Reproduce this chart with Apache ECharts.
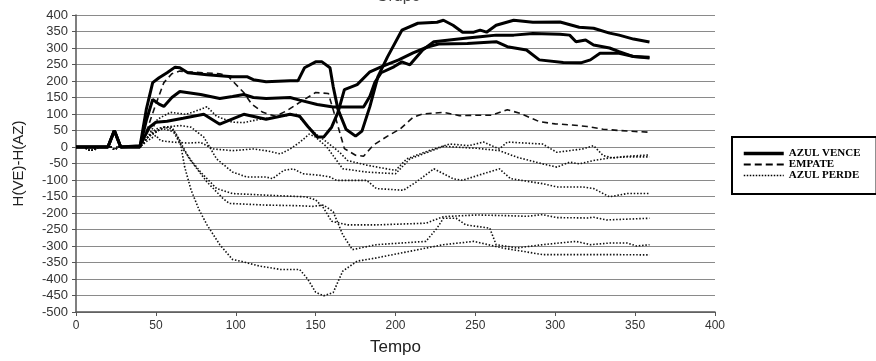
<!DOCTYPE html>
<html>
<head>
<meta charset="utf-8">
<script src="https://cdn.jsdelivr.net/npm/echarts@6/dist/echarts.min.js"></script>
<style>
html,body{margin:0;padding:0;background:#fff;}
#chart{width:876px;height:361px;}
</style>
</head>
<body>
<div id="chart"></div>
<script>
// ---- data (time, H(VE)-H(AZ)) ----
const titleText = 'Grupo';
const xAxisName = 'Tempo';
const yAxisName = 'H(VE)-H(AZ)';
const legendNames = ['AZUL VENCE', 'EMPATE', 'AZUL PERDE'];

// AZUL VENCE (solid)
const venceA = [[0,0],[20,0],[24,50],[28,0],[40,0],[44,114],[48,195],[52,210],[57,225],[62,242],[65,240],[70,225],[82,219],[98,213],[107,213],[111,204],[119,198],[134,201],[139,201],[143,240],[150,258],[154,258],[159,240],[161,183],[164,114],[169,54],[175,33],[179,48],[184,123],[189,213],[195,273],[204,354],[214,375],[226,378],[230,384],[236,369],[242,348],[249,348],[253,354],[257,348],[263,369],[274,384],[286,378],[303,379],[315,363],[324,360],[334,345],[340,339],[349,327],[359,318]];
const venceB = [[0,0],[20,0],[24,50],[28,0],[40,0],[44,80],[48,144],[52,130],[55,123],[60,150],[65,168],[78,159],[90,147],[98,153],[105,159],[111,150],[119,147],[134,150],[140,142],[151,129],[161,121],[170,121],[180,121],[184,154],[187,195],[191,225],[199,243],[204,258],[209,249],[217,294],[224,319],[245,330],[253,334],[263,339],[274,339],[286,344],[303,342],[309,339],[313,319],[319,324],[324,309],[334,300],[340,289],[349,274],[359,272]];
const venceC = [[0,0],[20,0],[24,50],[28,0],[40,4],[46,60],[50,75],[57,78],[67,87],[80,99],[90,69],[105,99],[119,84],[134,99],[140,93],[145,63],[151,30],[155,30],[160,60],[164,105],[168,174],[176,189],[184,228],[191,243],[202,264],[211,285],[220,303],[227,312],[245,314],[263,319],[270,304],[282,294],[290,264],[305,256],[316,255],[322,264],[328,284],[340,284],[349,274],[359,270]];

// EMPATE (dashed)
const empate = [[0,0],[40,0],[45,60],[50,130],[55,195],[60,222],[65,230],[70,228],[80,225],[90,222],[95,215],[100,190],[105,165],[110,130],[117,105],[125,93],[132,110],[140,135],[150,165],[158,162],[163,80],[168,-5],[175,-25],[180,-28],[186,5],[195,33],[203,55],[211,90],[217,100],[230,105],[240,95],[250,96],[260,96],[270,113],[278,102],[290,77],[300,70],[310,67],[320,62],[330,54],[340,50],[350,47],[358,45]];

// AZUL PERDE (dotted)
const perdeA = [[0,0],[5,0],[8,-10],[11,-10],[14,0],[22,0],[24,-8],[27,0],[40,0],[45,30],[51,84],[59,105],[69,99],[78,114],[82,122],[88,93],[98,75],[105,74],[115,84],[130,94],[138,99],[144,69],[150,40],[157,15],[165,-16],[170,-41],[182,-55],[200,-71],[207,-36],[221,-11],[234,9],[246,4],[255,15],[265,-6],[270,15],[292,9],[301,-16],[317,-6],[324,4],[330,-26],[336,-33],[345,-28],[359,-24]];
const perdeB = [[0,0],[5,0],[8,-10],[11,-10],[14,0],[22,0],[24,-8],[27,0],[40,0],[45,20],[50,35],[53,19],[60,15],[70,12],[78,14],[86,-6],[98,-11],[111,-6],[120,-12],[128,-21],[134,-6],[140,14],[146,39],[150,30],[157,0],[167,-66],[182,-76],[200,-81],[209,-36],[230,2],[251,-4],[265,-11],[276,-31],[292,-51],[301,-61],[309,-46],[315,-51],[324,-41],[334,-33],[345,-30],[359,-30]];
const perdeC = [[0,0],[5,0],[8,-10],[11,-10],[14,0],[22,0],[24,-8],[27,0],[40,0],[45,30],[55,60],[65,65],[72,60],[80,30],[88,-36],[98,-76],[107,-91],[119,-91],[123,-96],[130,-71],[136,-66],[142,-81],[153,-86],[159,-91],[163,-101],[182,-101],[188,-126],[205,-131],[213,-106],[224,-66],[236,-96],[242,-101],[255,-81],[265,-66],[272,-96],[292,-111],[301,-121],[317,-121],[324,-126],[334,-151],[345,-141],[359,-141]];
const perdeD = [[0,0],[5,0],[8,-10],[11,-10],[14,0],[22,0],[24,-8],[27,0],[40,0],[45,30],[50,55],[55,60],[60,55],[67,-6],[72,-40],[78,-76],[88,-126],[98,-141],[119,-146],[144,-151],[150,-160],[155,-185],[160,-225],[170,-236],[188,-236],[219,-231],[230,-211],[251,-206],[270,-208],[282,-210],[292,-205],[301,-214],[320,-215],[324,-213],[332,-221],[359,-216]];
const perdeE = [[0,0],[5,0],[8,-10],[11,-10],[14,0],[22,0],[24,-8],[27,0],[40,0],[45,30],[50,50],[55,55],[62,45],[71,-36],[82,-106],[92,-156],[96,-171],[119,-176],[140,-178],[148,-180],[155,-176],[161,-196],[167,-266],[173,-311],[188,-296],[219,-286],[226,-246],[230,-216],[238,-216],[244,-236],[259,-246],[263,-296],[276,-306],[292,-296],[313,-286],[322,-296],[334,-291],[345,-291],[351,-300],[359,-296]];
const perdeF = [[0,0],[5,0],[8,-10],[11,-10],[14,0],[22,0],[24,-8],[27,0],[40,0],[45,30],[55,60],[60,60],[65,20],[68,-60],[72,-130],[77,-190],[82,-236],[90,-296],[98,-341],[103,-346],[111,-356],[115,-361],[128,-371],[140,-371],[145,-400],[150,-440],[155,-451],[161,-441],[167,-376],[176,-346],[188,-336],[209,-316],[230,-296],[249,-286],[267,-306],[292,-326],[313,-326],[334,-326],[359,-327]];

const solidSeries = [venceA, venceB, venceC];
const dashedSeries = [empate];
const dottedSeries = [perdeA, perdeB, perdeC, perdeD, perdeE, perdeF];

// ---- chart ----
const chart = echarts.init(document.getElementById('chart'), null, {renderer: 'canvas'});

const styleSolid = {color: '#000', width: 3, type: 'solid'};
const styleDashed = {color: '#111', width: 1.6, type: [6, 4]};
const styleDotted = {color: '#111', width: 1.6, type: [1.5, 1.8]};

function mk(name, data, lineStyle, z) {
  return {
    name: name, type: 'line', data: data, showSymbol: false, symbol: 'none',
    lineStyle: lineStyle, z: z, animation: false, emphasis: {disabled: true}
  };
}

const series = [];
dottedSeries.forEach(d => series.push(mk(legendNames[2], d, styleDotted, 2)));
dashedSeries.forEach(d => series.push(mk(legendNames[1], d, styleDashed, 3)));
solidSeries.forEach(d => series.push(mk(legendNames[0], d, styleSolid, 4)));

chart.setOption({
  animation: false,
  backgroundColor: '#fff',
  color: ['#000'],
  title: {
    text: titleText, left: 376, top: -11, padding: 0,
    textStyle: {fontFamily: 'Liberation Sans', fontSize: 16, fontWeight: 'normal', color: '#444'}
  },
  legend: {
    data: [
      {name: legendNames[0], lineStyle: {width: 3.5, type: 'solid', color: '#000'}},
      {name: legendNames[1], lineStyle: {width: 2, type: [7, 4], color: '#000'}},
      {name: legendNames[2], lineStyle: {width: 1.5, type: [1.5, 1.5], color: '#000'}}
    ],
    orient: 'vertical',
    left: 732, top: 137,
    padding: [11, 16, 13, 10],
    itemWidth: 40, itemHeight: 10, itemGap: 0,
    itemStyle: {opacity: 0},
    borderColor: '#000', borderWidth: 2,
    selectedMode: false,
    textStyle: {fontFamily: 'Liberation Serif', fontWeight: 'bold', fontSize: 11, color: '#000', lineHeight: 10}
  },
  grid: {left: 76, right: 161, top: 15, bottom: 46, containLabel: false},
  xAxis: {
    type: 'value', min: 0, max: 400, interval: 50,
    name: xAxisName, nameLocation: 'middle', nameGap: 27,
    nameTextStyle: {fontFamily: 'Liberation Sans', fontSize: 17, color: '#222'},
    axisLine: {show: true, onZero: false, lineStyle: {color: '#555', width: 1.5}},
    axisTick: {show: true, length: 4, lineStyle: {color: '#555'}},
    axisLabel: {fontFamily: 'Liberation Sans', fontSize: 12, color: '#333', margin: 8},
    splitLine: {show: false}
  },
  yAxis: {
    type: 'value', min: -500, max: 400, interval: 50,
    name: yAxisName, nameLocation: 'middle', nameGap: 50, nameRotate: 90,
    nameTextStyle: {fontFamily: 'Liberation Sans', fontSize: 15, color: '#222'},
    axisLine: {show: true, lineStyle: {color: '#555', width: 1.5}},
    axisTick: {show: true, length: 4, lineStyle: {color: '#555'}},
    axisLabel: {fontFamily: 'Liberation Sans', fontSize: 13, color: '#333', margin: 8},
    splitLine: {show: true, lineStyle: {color: '#8a8a8a', width: 1.2}}
  },
  series: series
});
</script>
</body>
</html>
